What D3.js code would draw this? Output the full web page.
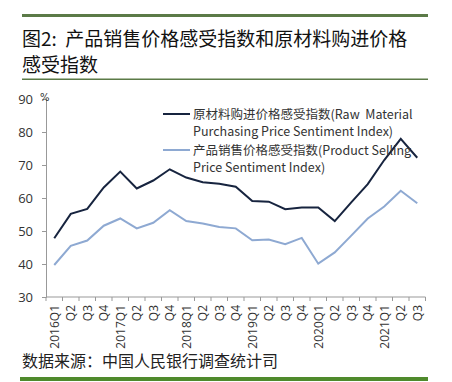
<!DOCTYPE html>
<html><head><meta charset="utf-8">
<script src="https://cdn.jsdelivr.net/npm/d3@7"></script>
<style>body{margin:0;background:#fff}svg{display:block}text{white-space:pre}</style>
</head><body>
<svg id="c" width="452" height="382"></svg>
<script>
const categories = ["2016Q1","Q2","Q3","Q4","2017Q1","Q2","Q3","Q4","2018Q1","Q2","Q3","Q4","2019Q1","Q2","Q3","Q4","2020Q1","Q2","Q3","Q4","2021Q1","Q2","Q3"];
const rawMaterial = [47.8,55.2,56.7,63.2,68.0,62.9,65.3,68.7,66.2,64.8,64.3,63.4,59.1,58.9,56.6,57.1,57.1,53.0,58.7,64.2,71.5,77.9,72.2];
const productSelling = [39.7,45.5,47.1,51.6,53.8,50.8,52.5,56.3,53.0,52.3,51.2,50.8,47.2,47.4,46.0,47.9,40.1,43.5,48.6,53.8,57.4,62.2,58.4];
const yTicks = [30,40,50,60,70,80,90];
const titleLines = ["图2:  产品销售价格感受指数和原材料购进价格","感受指数"];
const legendRaw = ["原材料购进价格感受指数(Raw  Material","Purchasing Price Sentiment Index)"];
const legendProd = ["产品销售价格感受指数(Product Selling","Price Sentiment Index)"];
const sourceText = "数据来源：中国人民银行调查统计司";

const svg = d3.select("#c");
const font = "'Noto Sans CJK SC','Noto Sans',sans-serif";

// header rules
svg.append("rect").attr("x",22).attr("y",14).attr("width",406).attr("height",3).attr("fill","#5b7a47");
svg.append("rect").attr("x",22).attr("y",78.5).attr("width",406).attr("height",1.5).attr("fill","#5b7a47");
svg.append("rect").attr("x",20).attr("y",377).attr("width",408).attr("height",4).attr("fill","#4f8a2c");

svg.selectAll("text.title").data(titleLines).enter().append("text")
  .attr("x",22).attr("y",(d,i)=>46+i*25.5)
  .attr("font-family",font).attr("font-size",19).attr("fill","#111")
  .text(d=>d);

const x = d3.scaleBand().domain(d3.range(categories.length)).range([46,425.5]);
const y = d3.scaleLinear().domain([30,90]).range([297,99]);

// y axis
const ya = svg.append("g").attr("transform","translate(46,0)")
  .call(d3.axisLeft(y).tickValues(yTicks).tickSize(4).tickPadding(9));
ya.select(".domain").attr("stroke","#999");
ya.selectAll(".tick line").attr("stroke","#999");
ya.selectAll("text").attr("font-family","'Open Sans','DejaVu Sans',sans-serif").attr("font-size",13).attr("fill","#333");

svg.append("text").attr("x",40).attr("y",101).attr("font-family","'DejaVu Sans',sans-serif")
  .attr("font-size",10).attr("fill","#333").text("%");

// x axis
const xa = svg.append("g").attr("transform","translate(0,297)");
xa.append("line").attr("x1",46).attr("x2",425.5).attr("y1",0).attr("y2",0).attr("stroke","#999");
xa.selectAll("line.tk").data(d3.range(categories.length+1)).enter().append("line")
  .attr("x1",d=>d<categories.length? x(d): x(categories.length-1)+x.bandwidth())
  .attr("x2",d=>d<categories.length? x(d): x(categories.length-1)+x.bandwidth())
  .attr("y1",0).attr("y2",4).attr("stroke","#999");
xa.selectAll("text").data(categories).enter().append("text")
  .attr("transform",(d,i)=>`translate(${x(i)+x.bandwidth()/2+4.5},8) rotate(-90)`)
  .attr("text-anchor","end")
  .attr("font-family","'Open Sans','DejaVu Sans',sans-serif").attr("font-size",12).attr("fill","#333")
  .text(d=>d);

const line = d3.line().x((d,i)=>x(i)+x.bandwidth()/2).y(d=>y(d));
svg.append("path").datum(productSelling).attr("d",line).attr("fill","none")
  .attr("stroke","#8ea9d2").attr("stroke-width",2);
svg.append("path").datum(rawMaterial).attr("d",line).attr("fill","none")
  .attr("stroke","#17243f").attr("stroke-width",2);

// legend
const lg = [{c:"#17243f",t:legendRaw,y:114},{c:"#8ea9d2",t:legendProd,y:150}];
lg.forEach(l=>{
  svg.append("line").attr("x1",163).attr("x2",190).attr("y1",l.y).attr("y2",l.y)
    .attr("stroke",l.c).attr("stroke-width",2);
  l.t.forEach((t,i)=>{
    svg.append("text").attr("x",193).attr("y",l.y+4.5+i*17.5)
      .attr("font-family",font).attr("font-size",12.5).attr("fill","#333").text(t);
  });
});

svg.append("text").attr("x",22).attr("y",367).attr("font-family",font)
  .attr("font-size",16).attr("fill","#222").text(sourceText);
</script>
</body></html>
